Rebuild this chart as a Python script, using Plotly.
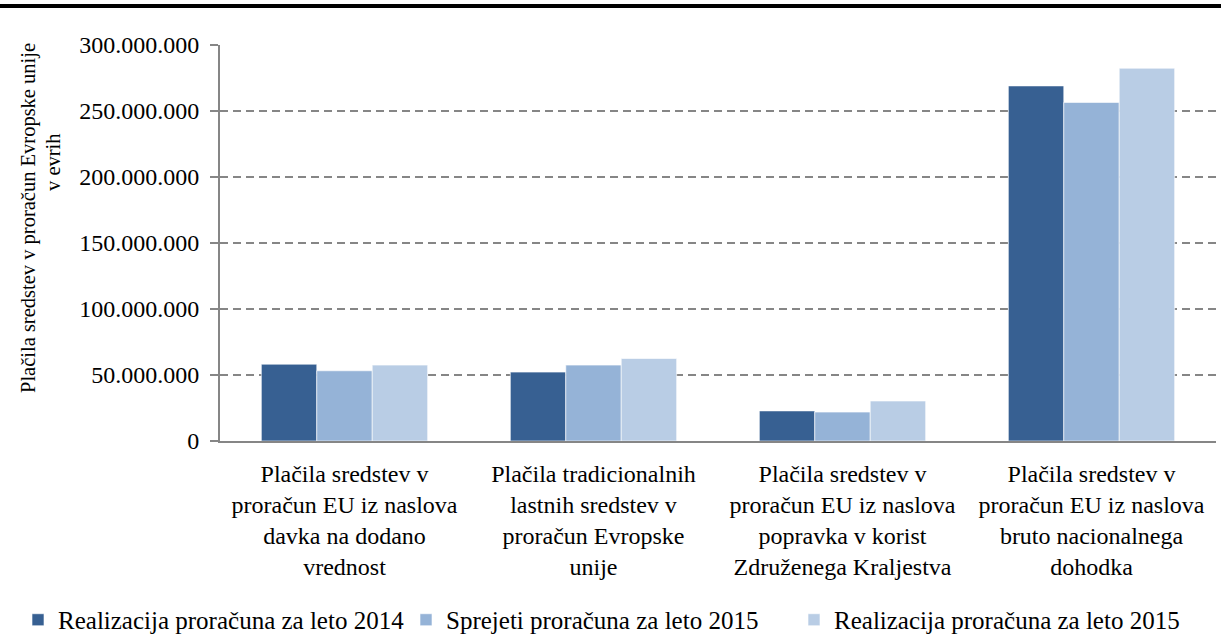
import plotly.graph_objects as go

categories = ["DDV", "TLS", "UK", "BND"]
category_labels = [
    "Plačila sredstev v<br>proračun EU iz naslova<br>davka na dodano<br>vrednost",
    "Plačila tradicionalnih<br>lastnih sredstev v<br>proračun Evropske<br>unije",
    "Plačila sredstev v<br>proračun EU iz naslova<br>popravka v korist<br>Združenega Kraljestva",
    "Plačila sredstev v<br>proračun EU iz naslova<br>bruto nacionalnega<br>dohodka",
]
series_names = [
    "Realizacija proračuna za leto 2014",
    "Sprejeti proračuna za leto 2015",
    "Realizacija proračuna za leto 2015",
]
real_2014 = [58_200_000, 52_200_000, 22_800_000, 269_000_000]
sprejeti_2015 = [53_200_000, 57_500_000, 21_900_000, 256_500_000]
real_2015 = [57_500_000, 62_500_000, 30_300_000, 282_400_000]
colors = ["#376092", "#95B3D7", "#B9CDE5"]

y_tickvals = [0, 50_000_000, 100_000_000, 150_000_000, 200_000_000, 250_000_000, 300_000_000]
y_ticktext = ["0", "50.000.000", "100.000.000", "150.000.000", "200.000.000", "250.000.000", "300.000.000"]

FONT = "'Liberation Serif', 'Times New Roman', Times, 'DejaVu Serif', serif"

fig = go.Figure()
for name, vals, col in zip(series_names, [real_2014, sprejeti_2015, real_2015], colors):
    fig.add_trace(go.Bar(
        x=categories, y=vals, name=name,
        marker=dict(color=col, line=dict(color="rgba(255,255,255,0.6)", width=1)),
    ))

fig.update_layout(
    width=1221, height=634,
    margin=dict(l=220, r=5, t=45, b=193, autoexpand=False),
    paper_bgcolor="white", plot_bgcolor="white",
    font=dict(family=FONT, color="#000000", size=24),
    barmode="group", bargap=0.332, bargroupgap=0,
    showlegend=True,
    legend=dict(
        orientation="h", x=-0.2028, xanchor="left", y=-0.452, yanchor="middle",
        font=dict(family=FONT, size=25, color="#000000"),
        traceorder="normal", entrywidth=343, entrywidthmode="pixels",
        bgcolor="rgba(0,0,0,0)",
    ),
)

fig.update_xaxes(
    tickvals=categories, ticktext=category_labels, tickangle=0,
    showline=True, linecolor="#868686", linewidth=2,
    ticks="", showgrid=False,
    tickfont=dict(family=FONT, size=24, color="#000000"),
    ticklabelstandoff=10,
)
fig.update_yaxes(
    range=[0, 300_000_000],
    tickvals=y_tickvals, ticktext=y_ticktext,
    showline=True, linecolor="#868686", linewidth=2,
    ticks="outside", ticklen=8, tickcolor="#868686", tickwidth=2,
    showgrid=True, gridcolor="#868686", gridwidth=1.5, griddash="8px,5px",
    zeroline=False,
    tickfont=dict(family=FONT, size=24, color="#000000"),
    ticklabelstandoff=6,
)

# y-axis title (two lines as in the reference)
fig.add_annotation(
    text="Plačila sredstev v proračun Evropske unije",
    xref="paper", yref="paper", x=-0.1928, y=0.563,
    xanchor="center", yanchor="middle", textangle=-90, showarrow=False,
    font=dict(family=FONT, size=20.5, color="#000000"),
)
fig.add_annotation(
    text="v evrih",
    xref="paper", yref="paper", x=-0.1677, y=0.7045,
    xanchor="center", yanchor="middle", textangle=-90, showarrow=False,
    font=dict(family=FONT, size=20.5, color="#000000"),
)

# top rule
fig.add_shape(
    type="line", xref="paper", yref="paper",
    x0=-0.23, x1=1.01, y0=1.0985, y1=1.0985,
    line=dict(color="#000000", width=4),
)

fig.write_html(
    "out.html",
    config={"displayModeBar": False},
    post_script="document.body.style.margin='0';document.body.style.overflow='hidden';",
)
